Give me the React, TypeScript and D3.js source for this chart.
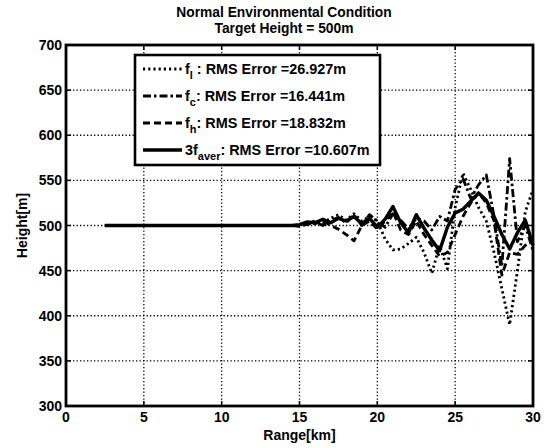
import React, { useEffect, useRef } from 'react';
import * as d3 from 'd3';

// range in km (flat part from 2.5 km, then 0.5 km samples)
const ranges = [2.5, 14, 14.5, 15, 15.5, 16, 16.5, 17, 17.5, 18, 18.5, 19, 19.5, 20, 20.5, 21, 21.5, 22, 22.5, 23, 23.5, 24, 24.5, 25, 25.5, 26, 26.5, 27, 27.5, 28, 28.5, 29, 29.5, 30];

const fl = [500, 500, 500, 500, 502, 505, 503, 508, 512, 506, 513, 505, 510, 505, 485, 473, 474, 480, 487, 470, 447, 478, 452, 520, 558, 540, 520, 505, 470, 430, 390, 450, 515, 540];
const fc = [500, 500, 500, 500, 501, 504, 500, 505, 509, 503, 512, 500, 512, 505, 498, 513, 506, 496, 508, 505, 495, 510, 505, 540, 552, 530, 545, 556, 510, 455, 574, 482, 500, 472];
const fh = [500, 500, 500, 499, 503, 502, 505, 500, 496, 490, 483, 500, 505, 496, 505, 515, 495, 490, 505, 490, 478, 466, 470, 490, 510, 525, 536, 525, 505, 445, 470, 468, 478, 482];
const faver = [500, 500, 500, 501, 504, 503, 507, 503, 508, 505, 510, 502, 508, 498, 507, 521, 503, 492, 512, 497, 484, 472, 498, 514, 518, 527, 536, 528, 510, 490, 474, 492, 506, 478];

const xTicks = [0, 5, 10, 15, 20, 25, 30];
const yTicks = [300, 350, 400, 450, 500, 550, 600, 650, 700];

const seriesNames = ['l', 'c', 'h', 'aver'];
const rmsErrors = ['26.927', '16.441', '18.832', '10.607'];

const App = () => {
    const svgRef = useRef<SVGSVGElement>(null);

    useEffect(() => {
        const svg = d3.select(svgRef.current);
        svg.selectAll('*').remove();

        const font = '"Liberation Sans", Arial, sans-serif';
        const left = 66, right = 533, top = 45, bottom = 406;

        const x = d3.scaleLinear().domain([0, 30]).range([left, right]);
        const y = d3.scaleLinear().domain([300, 700]).range([bottom, top]);

        svg.append('rect').attr('width', 544).attr('height', 448).attr('fill', '#fff');

        // titles
        const titles = ['Normal Environmental Condition', 'Target Height = 500m'];
        titles.forEach((t, i) => {
            svg.append('text')
                .attr('x', 284)
                .attr('y', 17 + i * 16)
                .attr('text-anchor', 'middle')
                .style('font-family', font)
                .style('font-weight', 'bold')
                .style('font-size', '13.8px')
                .text(t);
        });

        // grid
        const grid = svg.append('g')
            .attr('stroke', '#000')
            .attr('stroke-width', 1.3)
            .attr('stroke-dasharray', '1.3,2.2');

        xTicks.slice(1, -1).forEach(t => {
            grid.append('line').attr('x1', x(t)).attr('x2', x(t)).attr('y1', top).attr('y2', bottom);
        });
        yTicks.slice(1, -1).forEach(t => {
            grid.append('line').attr('x1', left).attr('x2', right).attr('y1', y(t)).attr('y2', y(t));
        });

        // data lines
        const line = d3.line<number>()
            .x((d, i) => x(ranges[i]))
            .y(d => y(d));

        const styles = [
            { data: fl, dash: '2.2,3', width: 2.8 },
            { data: fc, dash: '8,3,2.5,3', width: 2.8 },
            { data: fh, dash: '7,4', width: 2.8 },
            { data: faver, dash: null, width: 3.4 }
        ];

        const plot = svg.append('g');
        styles.forEach(s => {
            plot.append('path')
                .attr('d', line(s.data))
                .attr('fill', 'none')
                .attr('stroke', '#000')
                .attr('stroke-width', s.width)
                .attr('stroke-linejoin', 'round')
                .attr('stroke-dasharray', s.dash);
        });

        // frame and ticks
        svg.append('rect')
            .attr('x', left).attr('y', top)
            .attr('width', right - left).attr('height', bottom - top)
            .attr('fill', 'none')
            .attr('stroke', '#000')
            .attr('stroke-width', 2.8);

        const ticks = svg.append('g').attr('stroke', '#000').attr('stroke-width', 1.5);
        xTicks.forEach(t => {
            ticks.append('line').attr('x1', x(t)).attr('x2', x(t)).attr('y1', bottom).attr('y2', bottom - 5);
            ticks.append('line').attr('x1', x(t)).attr('x2', x(t)).attr('y1', top).attr('y2', top + 5);
        });
        yTicks.forEach(t => {
            ticks.append('line').attr('x1', left).attr('x2', left + 5).attr('y1', y(t)).attr('y2', y(t));
            ticks.append('line').attr('x1', right).attr('x2', right - 5).attr('y1', y(t)).attr('y2', y(t));
        });

        // tick labels
        const labels = svg.append('g')
            .style('font-family', font)
            .style('font-weight', 'bold')
            .style('font-size', '14px');

        xTicks.forEach(t => {
            labels.append('text')
                .attr('x', x(t))
                .attr('y', 422)
                .attr('text-anchor', 'middle')
                .text(t);
        });
        yTicks.forEach(t => {
            labels.append('text')
                .attr('x', 62)
                .attr('y', y(t) + 5)
                .attr('text-anchor', 'end')
                .text(t);
        });

        labels.append('text')
            .attr('x', (left + right) / 2)
            .attr('y', 440)
            .attr('text-anchor', 'middle')
            .text('Range[km]');

        labels.append('text')
            .attr('transform', `translate(27, ${(top + bottom) / 2}) rotate(-90)`)
            .attr('text-anchor', 'middle')
            .text('Height[m]');

        // legend
        const legend = svg.append('g');
        legend.append('rect')
            .attr('x', 135).attr('y', 55)
            .attr('width', 245).attr('height', 110)
            .attr('fill', '#fff')
            .attr('stroke', '#000')
            .attr('stroke-width', 2.6);

        styles.forEach((s, i) => {
            const ly = 69 + i * 27;
            legend.append('line')
                .attr('x1', 143).attr('x2', 182)
                .attr('y1', ly).attr('y2', ly)
                .attr('stroke', '#000')
                .attr('stroke-width', s.width)
                .attr('stroke-dasharray', s.dash);

            const txt = legend.append('text')
                .attr('x', 185)
                .attr('y', ly + 5)
                .style('font-family', font)
                .style('font-weight', 'bold')
                .style('font-size', '14.4px');

            txt.append('tspan').text(i === 3 ? '3f' : 'f');
            txt.append('tspan')
                .attr('dy', 5)
                .style('font-size', '11px')
                .text(seriesNames[i]);
            txt.append('tspan')
                .attr('dy', -5)
                .text(`${i === 0 ? ' ' : ''}: RMS Error =${rmsErrors[i]}m`);
        });
    }, []);

    return (
        <svg ref={svgRef} width={544} height={448}
            style={{ position: 'absolute', left: 0, top: 0 }}></svg>
    );
};

export default App;
